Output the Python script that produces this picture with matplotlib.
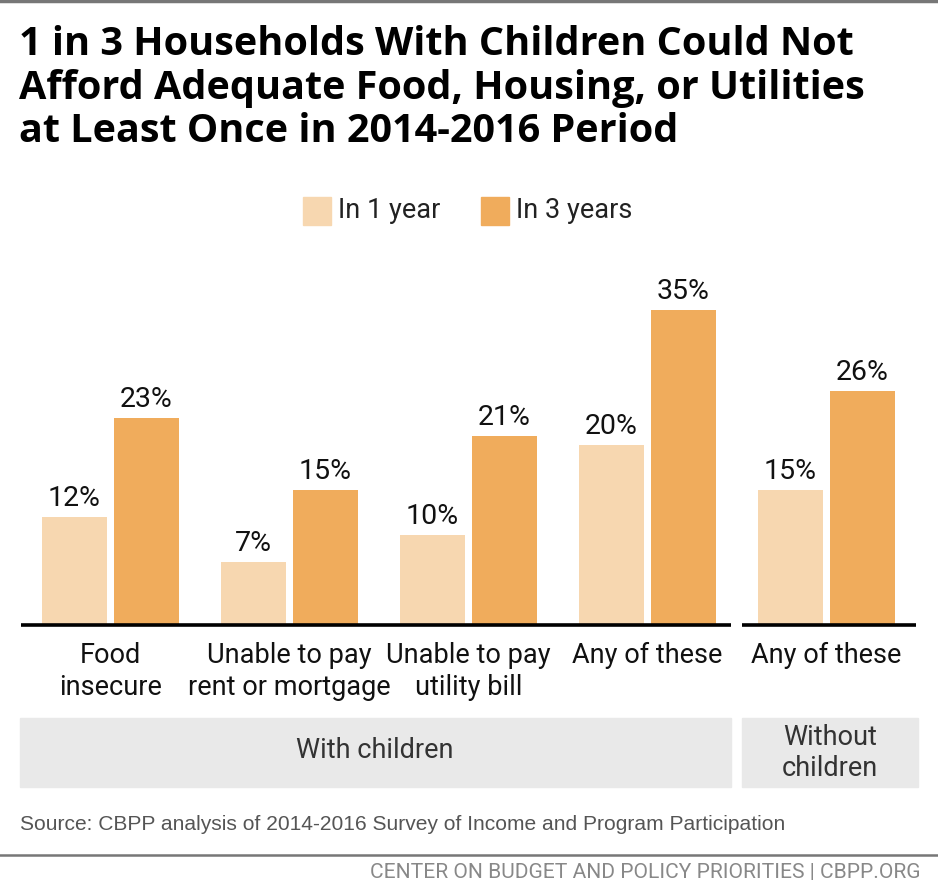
import matplotlib.pyplot as plt
from matplotlib.patches import Rectangle
import numpy as np

# data
cats = ["Food\ninsecure", "Unable to pay\nrent or mortgage", "Unable to pay\nutility bill",
        "Any of these", "Any of these"]
one_year = [12, 7, 10, 20, 15]
three_years = [23, 15, 21, 35, 26]
series_names = ["In 1 year", "In 3 years"]
groups = ["With children", "Without\nchildren"]

c_light = "#F7D7B0"
c_dark = "#F0AC5C"
narrow = ["Roboto", "DejaVu Sans"]
W, H = 938, 891
fs = 19.5

fig = plt.figure(figsize=(W / 100, H / 100), dpi=100)

# axes placed in pixel terms: x -0.5..4.5 spans px 21..916, baseline at 625px, 9px per %
ax = fig.add_axes([21 / W, (H - 625) / H, 895 / W, 360 / H])
ax.set_xlim(-0.5, 4.5)
ax.set_ylim(0, 40)
ax.axis("off")

x = np.arange(len(cats))
bw = 65 / 179
off = 36 / 179
b1 = ax.bar(x - off, one_year, bw, color=c_light)
b2 = ax.bar(x + off, three_years, bw, color=c_dark)
for bars, vals in [(b1, one_year), (b2, three_years)]:
    for b, v in zip(bars, vals):
        ax.text(b.get_x() + b.get_width() / 2, v + 0.55, f"{v}%", ha="center", va="bottom",
                fontsize=fs + 1, family=narrow, color="#111111")

# baseline split between the two groups
ax.plot([-0.5, 3.5 - 0.035], [0, 0], color="black", lw=2.6, solid_capstyle="butt", clip_on=False)
ax.plot([3.5 + 0.03, 4.5], [0, 0], color="black", lw=2.6, solid_capstyle="butt", clip_on=False)

# category labels
for xi, c in zip(x, cats):
    ax.text(xi, -1.85, c, ha="center", va="top", fontsize=fs, family=narrow,
            linespacing=1.26, color="#111111")

# group bands
fig.patches.append(Rectangle((20 / W, (H - 787) / H), 711 / W, 69 / H,
                             transform=fig.transFigure, color="#E9E9E9", zorder=0))
fig.patches.append(Rectangle((742 / W, (H - 787) / H), 176 / W, 69 / H,
                             transform=fig.transFigure, color="#E9E9E9", zorder=0))
fig.text(375 / W, 1 - 751 / H, groups[0], ha="center", va="center", fontsize=fs,
         family=narrow, color="#333333")
fig.text(830 / W, 1 - 753 / H, groups[1], ha="center", va="center", fontsize=fs,
         family=narrow, color="#333333", linespacing=1.2)

# legend
for px, col, name in [(303, c_light, series_names[0]), (481, c_dark, series_names[1])]:
    fig.patches.append(Rectangle((px / W, 1 - 225 / H), 28 / W, 28 / H,
                                 transform=fig.transFigure, color=col))
    fig.text((px + 35) / W, 1 - 211 / H, name, ha="left", va="center", fontsize=fs,
             family=narrow, color="#222222")

# title
fig.text(19 / W, 1 - 25 / H,
         "1 in 3 Households With Children Could Not\nAfford Adequate Food, Housing, or Utilities\nat Least Once in 2014-2016 Period",
         ha="left", va="top", fontsize=28.5, fontweight="bold", family=["Open Sans", "DejaVu Sans"],
         linespacing=1.15, color="black")

# top border, source, footer
fig.add_artist(plt.Line2D([0, 1], [1 - 1 / H, 1 - 1 / H], color="#777777", lw=2.5))
fig.text(20 / W, 1 - 824 / H, "Source: CBPP analysis of 2014-2016 Survey of Income and Program Participation",
         ha="left", va="center", fontsize=15.1, family=["Liberation Sans", "DejaVu Sans"], color="#555555")
fig.add_artist(plt.Line2D([0, 1], [1 - 855 / H, 1 - 855 / H], color="#777777", lw=1.8))
fig.text(920 / W, 1 - 873 / H, "CENTER ON BUDGET AND POLICY PRIORITIES | CBPP.ORG",
         ha="right", va="center", fontsize=15.1, family=narrow, color="#888888")

fig.savefig("out.png", dpi=100)
